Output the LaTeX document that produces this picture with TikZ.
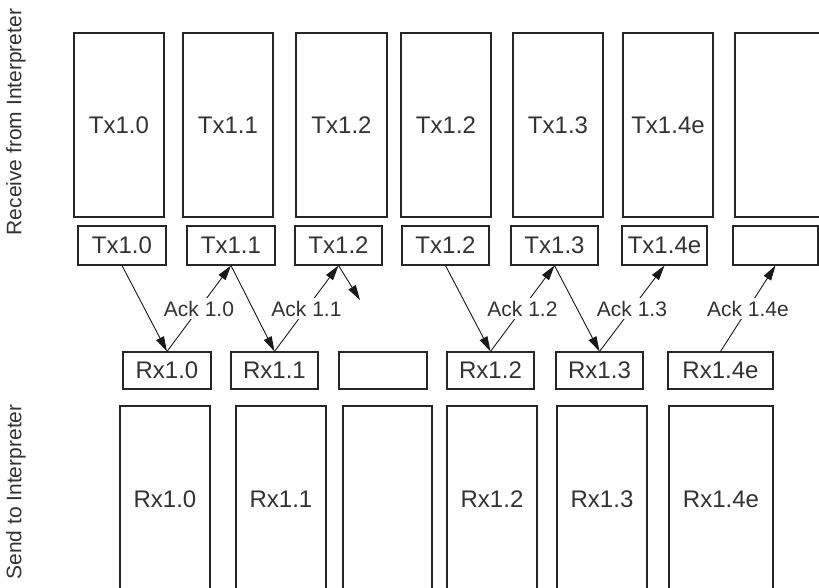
\documentclass[tikz,border=0pt]{standalone}
\usepackage{fontspec}
\setmainfont{Liberation Sans}
\usetikzlibrary{arrows.meta}
\begin{document}
\begin{tikzpicture}[x=1pt,y=-1pt,
  box/.style={draw=black!85, line width=1.1pt, inner sep=0pt, font=\fontsize{24}{24}\selectfont, text=black!80},
  talltx/.style={box, minimum width=90pt, minimum height=184pt},
  smalltx/.style={box, minimum width=88pt, minimum height=39pt},
  smallrx/.style={box, minimum width=88pt, minimum height=37pt},
  tallrx/.style={box, minimum width=90pt, minimum height=186pt},
  link/.style={draw=black!90, line width=0.9pt, -{Triangle[length=15pt,width=8.5pt]}},
  acklabel/.style={fill=white, inner sep=3pt, font=\fontsize{21}{21}\selectfont, text=black!80},
  side/.style={rotate=90, font=\fontsize{21}{21}\selectfont, text=black!80, inner sep=0pt}
]
\useasboundingbox (0,0) rectangle (819,588);
\clip (0,0) rectangle (819,588);
\fill[white] (0,0) rectangle (819,588);

% side labels
\node[side] (recv) at (16,122) {Receive from Interpreter};
\node[side] (send) at (16,492) {Send to Interpreter};

% top tall boxes
\node[talltx] (T1) at (119,125) {Tx1.0};
\node[talltx] (T2) at (228,125) {Tx1.1};
\node[talltx, minimum width=91pt] (T3) at (341.5,125) {Tx1.2};
\node[talltx] (T4) at (446,125) {Tx1.2};
\node[talltx] (T5) at (558,125) {Tx1.3};
\node[talltx] (T6) at (668,125) {Tx1.4e};
\node[talltx] (T7) at (780,125) {};

% small Tx boxes
\node[smalltx] (S1) at (122,245.5) {Tx1.0};
\node[smalltx] (S2) at (231,245.5) {Tx1.1};
\node[smalltx, minimum width=87pt] (S3) at (338.5,245.5) {Tx1.2};
\node[smalltx, minimum width=87pt] (S4) at (445.5,245.5) {Tx1.2};
\node[smalltx, minimum width=87pt] (S5) at (554.5,245.5) {Tx1.3};
\node[smalltx, minimum width=85pt] (S6) at (664.5,245.5) {Tx1.4e};
\node[smalltx, minimum width=85pt] (S7) at (775.5,245.5) {};

% small Rx boxes
\node[smallrx] (R1) at (167,370.5) {Rx1.0};
\node[smallrx, minimum width=87pt] (R2) at (274.5,370.5) {Rx1.1};
\node[smallrx] (R3) at (383,370.5) {};
\node[smallrx, minimum width=87pt] (R4) at (490.5,370.5) {Rx1.2};
\node[smallrx, minimum width=87pt] (R5) at (599.5,370.5) {Rx1.3};
\node[smallrx, minimum width=105pt] (R6) at (720.5,370.5) {Rx1.4e};

% bottom tall boxes
\node[tallrx] (B1) at (165,499) {Rx1.0};
\node[tallrx] (B2) at (281,499) {Rx1.1};
\node[tallrx, minimum width=89pt] (B3) at (387.5,499) {};
\node[tallrx] (B4) at (492,499) {Rx1.2};
\node[tallrx] (B5) at (602,499) {Rx1.3};
\node[tallrx, minimum width=104pt] (B6) at (721,499) {Rx1.4e};

% data arrows
\draw[link] (S1.south) -- (R1.north);
\draw[link] (S2.south) -- (R2.north);
\draw[link] (S4.south) -- (R4.north);
\draw[link] (S5.south) -- (R5.north);
\coordinate (lost) at (360,300);
\draw[link] (S3.south) -- (lost);

% acks
\draw[link] (R1.north) -- node[acklabel] (k0) {Ack 1.0} (S2.south);
\draw[link] (R2.north) -- node[acklabel] (k1) {Ack 1.1} (S3.south);
\draw[link] (R4.north) -- node[acklabel] (k2) {Ack 1.2} (S5.south);
\draw[link] (R5.north) -- node[acklabel] (k3) {Ack 1.3} (S6.south);
\draw[link] (R6.north) -- node[acklabel] (k4) {Ack 1.4e} (S7.south);
\end{tikzpicture}
\end{document}
